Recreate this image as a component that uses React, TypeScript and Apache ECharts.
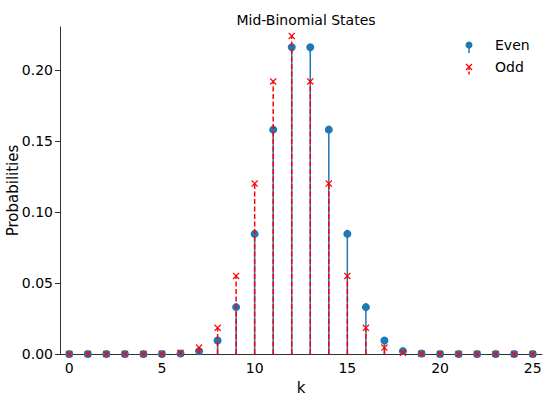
import React, { useEffect, useRef } from "react";
import * as echarts from "echarts";

const kValues: string[] = Array.from({ length: 26 }, (_, i) => String(i));
const evenProbs: number[] = [
  0, 0, 0, 0, 0, 0, 0.0003, 0.002, 0.0095, 0.033, 0.0846, 0.158, 0.216,
  0.216, 0.158, 0.0846, 0.033, 0.0095, 0.002, 0.0003, 0, 0, 0, 0, 0, 0,
];
const oddProbs: number[] = [
  0, 0, 0, 0, 0, 0.0001, 0.0008, 0.0045, 0.0184, 0.055, 0.12, 0.192, 0.224,
  0.192, 0.12, 0.055, 0.0184, 0.0045, 0.0008, 0.0001, 0, 0, 0, 0, 0, 0,
];
const legendNames: string[] = ["Even", "Odd"];

const BLUE = "#1f77b4";
const RED = "#ff0000";
const FONT = "DejaVu Sans";

const X_PATH =
  "path://M0,1.2L1.2,0L5,3.8L8.8,0L10,1.2L6.2,5L10,8.8L8.8,10L5,6.2L1.2,10L0,8.8L3.8,5Z";

function stemRender(color: string, dashed: boolean) {
  return (params: any, api: any) => {
    const x = api.value(0);
    const y = api.value(1);
    const p0 = api.coord([x, 0]);
    const p1 = api.coord([x, y]);
    return {
      type: "line",
      shape: { x1: p0[0], y1: p0[1], x2: p1[0], y2: p1[1] },
      style: {
        stroke: color,
        lineWidth: 1.5,
        lineDash: dashed ? [5, 2.5] : null,
        fill: null,
      },
    };
  };
}

export default function App() {
  const ref = useRef<HTMLDivElement>(null);
  useEffect(() => {
    if (!ref.current) return;
    const chart = echarts.init(ref.current, null, { renderer: "svg" });
    const evenData = evenProbs.map((v, i) => [i, v]);
    const oddData = oddProbs.map((v, i) => [i, v]);
    const ix = 469;
    const yE = 47;
    const yO = 69;
    chart.setOption({
      animation: false,
      backgroundColor: "#ffffff",
      title: {
        text: "Mid-Binomial States",
        left: 301,
        textAlign: "center",
        top: 8,
        textStyle: { fontFamily: FONT, fontSize: 14, fontWeight: "normal", color: "#000" },
      },
      grid: {
        left: 60,
        right: 8,
        top: 27,
        bottom: 45,
        containLabel: false,
        outerBoundsMode: "none",
      },
      graphic: [
        // Even legend entry
        { type: "line", shape: { x1: ix, y1: yE - 2, x2: ix, y2: yE + 6 }, style: { stroke: BLUE, lineWidth: 1.5 } },
        { type: "circle", shape: { cx: ix, cy: yE - 2, r: 3.5 }, style: { fill: BLUE } },
        {
          type: "text",
          left: 495,
          top: yE - 9,
          style: { text: legendNames[0], fontFamily: FONT, fontSize: 14, fill: "#000" },
        },
        // Odd legend entry
        { type: "line", shape: { x1: ix, y1: yO - 2, x2: ix, y2: yO + 6 }, style: { stroke: RED, lineWidth: 1.5, lineDash: [3, 1.5] } },
        { type: "line", shape: { x1: ix - 3, y1: yO - 5, x2: ix + 3, y2: yO + 1 }, style: { stroke: RED, lineWidth: 1.3 } },
        { type: "line", shape: { x1: ix + 3, y1: yO - 5, x2: ix - 3, y2: yO + 1 }, style: { stroke: RED, lineWidth: 1.3 } },
        {
          type: "text",
          left: 495,
          top: yO - 9,
          style: { text: legendNames[1], fontFamily: FONT, fontSize: 14, fill: "#000" },
        },
      ],
      xAxis: {
        type: "category",
        data: kValues,
        boundaryGap: true,
        name: "k",
        nameLocation: "middle",
        nameGap: 26,
        nameMoveOverlap: false,
        nameTextStyle: { fontFamily: FONT, fontSize: 15, color: "#000" },
        axisLine: { lineStyle: { color: "#333", width: 1 } },
        axisTick: {
          alignWithLabel: true,
          interval: (i: number) => i % 5 === 0,
          length: 5,
          lineStyle: { color: "#333" },
        },
        axisLabel: {
          interval: (i: number) => i % 5 === 0,
          fontFamily: FONT,
          fontSize: 14,
          color: "#000",
          margin: 7,
        },
        splitLine: { show: false },
      },
      yAxis: {
        type: "value",
        min: 0,
        max: 0.2303,
        interval: 0.05,
        name: "Probabilities",
        nameLocation: "middle",
        nameGap: 40,
        nameMoveOverlap: false,
        nameTextStyle: { fontFamily: FONT, fontSize: 15, color: "#000" },
        axisLine: { show: true, lineStyle: { color: "#333", width: 1 } },
        axisTick: { show: true, length: 5, lineStyle: { color: "#333" } },
        axisLabel: {
          fontFamily: FONT,
          fontSize: 14,
          color: "#000",
          margin: 7,
          formatter: (v: number) => v.toFixed(2),
          showMaxLabel: false,
        },
        splitLine: { show: false },
      },
      series: [
        {
          name: "Even stems",
          type: "custom",
          renderItem: stemRender(BLUE, false),
          data: evenData,
          z: 2,
        },
        {
          name: "Even",
          type: "scatter",
          data: evenData,
          symbol: "circle",
          symbolSize: 8,
          itemStyle: { color: BLUE, opacity: 1 },
          z: 3,
        },
        {
          name: "Odd stems",
          type: "custom",
          renderItem: stemRender(RED, true),
          data: oddData,
          z: 4,
        },
        {
          name: "Odd",
          type: "scatter",
          data: oddData,
          symbol: X_PATH,
          symbolSize: 7,
          itemStyle: { color: RED, opacity: 1 },
          z: 5,
        },
      ],
    });
    return () => chart.dispose();
  }, []);
  return (
    <div
      ref={ref}
      style={{ position: "absolute", left: 0, top: 0, width: 550, height: 399 }}
    />
  );
}
